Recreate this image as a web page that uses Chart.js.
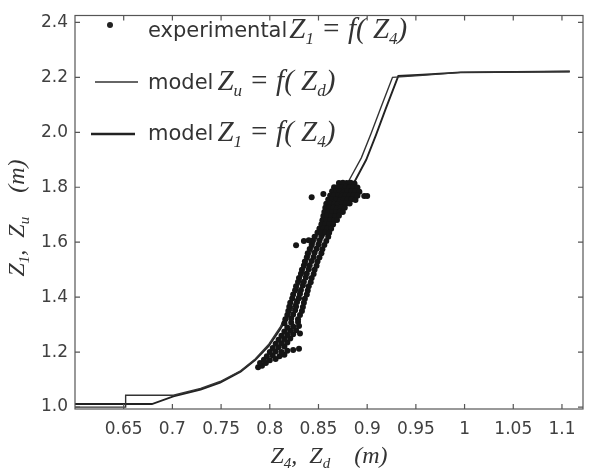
<!DOCTYPE html>
<html>
<head>
<meta charset="utf-8">
<script src="https://cdn.jsdelivr.net/npm/chart.js@4.4.1/dist/chart.umd.min.js"></script>
<style>
  html, body { margin: 0; padding: 0; background: #fff; }
  #wrap { width: 592px; height: 470px; }
</style>
</head>
<body>
<div id="wrap"><canvas id="chart"></canvas></div>
<script>
// tick positions
const xTicks = [0.65, 0.7, 0.75, 0.8, 0.85, 0.9, 0.95, 1.0, 1.05, 1.1];
const yTicks = [1.0, 1.2, 1.4, 1.6, 1.8, 2.0, 2.2, 2.4];

// model Zu = f(Zd)  (thin line)
const zuX = [0.600, 0.652, 0.652, 0.701, 0.729, 0.749, 0.770, 0.785, 0.799, 0.811, 0.821, 0.829, 0.835, 0.842,
             0.849, 0.860, 0.871, 0.882, 0.894, 0.904, 0.914, 0.921, 0.926, 0.957, 0.996, 1.108];
const zuY = [1.000, 1.000, 1.043, 1.043, 1.068, 1.093, 1.132, 1.175, 1.229, 1.293, 1.364, 1.436, 1.496, 1.561,
             1.625, 1.686, 1.757, 1.829, 1.907, 1.996, 2.089, 2.154, 2.200, 2.207, 2.218, 2.221];

// model Z1 = f(Z4)  (thick line)
const z1X = [0.600, 0.679, 0.701, 0.729, 0.749, 0.770, 0.785, 0.799, 0.811, 0.822, 0.831, 0.838, 0.846, 0.854,
             0.865, 0.876, 0.887, 0.899, 0.909, 0.919, 0.926, 0.932, 0.957, 0.996, 1.108];
const z1Y = [1.011, 1.011, 1.039, 1.064, 1.089, 1.129, 1.171, 1.223, 1.285, 1.352, 1.425, 1.485, 1.550, 1.615,
             1.680, 1.750, 1.820, 1.900, 1.990, 2.085, 2.150, 2.205, 2.210, 2.218, 2.221];

// experimental Z1 = f(Z4)
const expLow = [
  [0.788, 1.145], [0.792, 1.150], [0.790, 1.160], [0.796, 1.160], [0.794, 1.172], [0.800, 1.170], [0.806, 1.175],
  [0.797, 1.185], [0.803, 1.188], [0.810, 1.185], [0.815, 1.190], [0.800, 1.200], [0.806, 1.202], [0.812, 1.200],
  [0.818, 1.205], [0.824, 1.208], [0.830, 1.212], [0.803, 1.215], [0.809, 1.218], [0.815, 1.220], [0.806, 1.230],
  [0.812, 1.232], [0.818, 1.235], [0.809, 1.245], [0.815, 1.248], [0.821, 1.250], [0.812, 1.260], [0.818, 1.262],
  [0.824, 1.265], [0.831, 1.268], [0.815, 1.275], [0.821, 1.278], [0.827, 1.280], [0.818, 1.290], [0.824, 1.293],
  [0.830, 1.295], [0.815, 1.305], [0.822, 1.308], [0.829, 1.310]
];
const expMid = [
  [0.816, 1.320], [0.822, 1.322], [0.829, 1.320], [0.818, 1.335], [0.824, 1.337], [0.831, 1.335],
  [0.819, 1.350], [0.826, 1.352], [0.833, 1.350], [0.820, 1.365], [0.827, 1.366], [0.834, 1.364],
  [0.821, 1.380], [0.828, 1.382], [0.835, 1.380], [0.823, 1.395], [0.830, 1.396], [0.836, 1.394],
  [0.824, 1.410], [0.831, 1.412], [0.838, 1.410], [0.826, 1.425], [0.832, 1.426], [0.839, 1.424],
  [0.827, 1.440], [0.834, 1.442], [0.840, 1.440], [0.829, 1.455], [0.835, 1.456], [0.842, 1.454],
  [0.830, 1.470], [0.837, 1.472], [0.843, 1.470], [0.832, 1.485], [0.838, 1.486], [0.845, 1.484],
  [0.833, 1.500], [0.840, 1.502], [0.846, 1.500], [0.835, 1.515], [0.841, 1.516], [0.848, 1.514],
  [0.836, 1.530], [0.843, 1.532], [0.849, 1.530], [0.838, 1.545], [0.845, 1.546], [0.851, 1.544],
  [0.839, 1.560], [0.846, 1.562], [0.853, 1.560], [0.841, 1.575], [0.848, 1.576], [0.854, 1.574],
  [0.843, 1.590], [0.850, 1.592], [0.856, 1.590], [0.844, 1.605], [0.851, 1.606], [0.858, 1.604],
  [0.846, 1.620], [0.853, 1.622], [0.860, 1.620]
];
const expBlob = [
  [0.871, 1.815], [0.875, 1.816], [0.879, 1.815], [0.883, 1.816], [0.887, 1.814],
  [0.866, 1.800], [0.870, 1.801], [0.874, 1.800], [0.878, 1.802], [0.882, 1.800], [0.886, 1.801], [0.890, 1.799],
  [0.864, 1.785], [0.868, 1.786], [0.872, 1.785], [0.876, 1.784], [0.880, 1.786], [0.884, 1.785], [0.888, 1.786], [0.892, 1.784],
  [0.862, 1.770], [0.866, 1.771], [0.870, 1.770], [0.874, 1.769], [0.878, 1.771], [0.882, 1.770], [0.886, 1.771], [0.890, 1.769], [0.897, 1.768],
  [0.860, 1.755], [0.864, 1.756], [0.868, 1.755], [0.872, 1.754], [0.876, 1.756], [0.880, 1.755], [0.884, 1.756], [0.888, 1.754],
  [0.858, 1.740], [0.862, 1.741], [0.866, 1.740], [0.870, 1.739], [0.874, 1.741], [0.878, 1.740], [0.882, 1.741],
  [0.857, 1.725], [0.861, 1.726], [0.865, 1.725], [0.869, 1.724], [0.873, 1.726], [0.877, 1.725],
  [0.856, 1.710], [0.860, 1.711], [0.864, 1.710], [0.868, 1.709], [0.872, 1.711], [0.875, 1.710],
  [0.855, 1.695], [0.859, 1.696], [0.863, 1.695], [0.867, 1.694], [0.871, 1.696],
  [0.854, 1.680], [0.858, 1.681], [0.862, 1.680], [0.866, 1.679], [0.869, 1.681],
  [0.853, 1.665], [0.857, 1.666], [0.861, 1.665], [0.865, 1.664],
  [0.851, 1.650], [0.855, 1.651], [0.859, 1.650], [0.863, 1.649],
  [0.849, 1.635], [0.853, 1.636], [0.857, 1.635], [0.861, 1.634]
];
const expOut = [
  [0.843, 1.764], [0.855, 1.775], [0.900, 1.768], [0.827, 1.589], [0.835, 1.604], [0.840, 1.607]
];

const SANS = "'DejaVu Sans', Verdana, sans-serif";
const SERIF = "'Liberation Serif', 'Times New Roman', serif";

function pts(xs, ys) { return xs.map((x, i) => ({ x, y: ys[i] })); }
function pairs(list) { return list.map(p => ({ x: p[0], y: p[1] })); }

// draw a run of text pieces: [text, font, dy]
function rich(ctx, parts, x, y, align) {
  let w = 0;
  parts.forEach(p => { ctx.font = p[1]; w += ctx.measureText(p[0]).width; });
  let cx = align === "center" ? x - w / 2 : x;
  parts.forEach(p => {
    ctx.font = p[1];
    ctx.fillText(p[0], cx, y + (p[2] || 0));
    cx += ctx.measureText(p[0]).width;
  });
  return cx;
}

function mathParts(a, b, c, d, size) {
  const big = "italic " + size + "px " + SERIF;
  const sub = "italic " + Math.round(size * 0.6) + "px " + SERIF;
  const dy = size * 0.22;
  return [[a, big], [b, sub, dy], [" = ", big], ["f", big], ["( ", big], [c, big], [d, sub, dy], [")", big]];
}

const decor = {
  id: "decor",
  afterDraw(chart) {
    const { ctx, chartArea: a, scales: { x, y } } = chart;
    ctx.save();
    // frame + inward ticks
    ctx.strokeStyle = "#555";
    ctx.lineWidth = 1.2;
    ctx.strokeRect(a.left, a.top, a.right - a.left, a.bottom - a.top);
    ctx.beginPath();
    xTicks.forEach(v => {
      const p = x.getPixelForValue(v);
      ctx.moveTo(p, a.bottom); ctx.lineTo(p, a.bottom - 5);
      ctx.moveTo(p, a.top); ctx.lineTo(p, a.top + 5);
    });
    yTicks.forEach(v => {
      const p = y.getPixelForValue(v);
      ctx.moveTo(a.left, p); ctx.lineTo(a.left + 5, p);
      ctx.moveTo(a.right, p); ctx.lineTo(a.right - 5, p);
    });
    ctx.stroke();

    // axis titles
    ctx.fillStyle = "#333";
    ctx.textBaseline = "alphabetic";
    const tf = "italic 24px " + SERIF, ts = "italic 15px " + SERIF;
    rich(ctx, [["Z", tf], ["4", ts, 5], [",  ", tf], ["Z", tf], ["d", ts, 5], ["    (m)", tf]],
      (a.left + a.right) / 2, 463, "center");
    ctx.save();
    ctx.translate(24, 218);
    ctx.rotate(-Math.PI / 2);
    rich(ctx, [["Z", tf], ["1", ts, 5], [",  ", tf], ["Z", tf], ["u", ts, 5], ["    (m)", tf]], 0, 0, "center");
    ctx.restore();

    // legend
    const lx = a.left;
    const sans = "21px " + SANS;
    ctx.fillStyle = "#222";
    ctx.beginPath();
    ctx.arc(lx + 35, 25, 3, 0, Math.PI * 2);
    ctx.fill();
    ctx.strokeStyle = "#333";
    ctx.lineWidth = 1.3;
    ctx.beginPath(); ctx.moveTo(lx + 20, 82); ctx.lineTo(lx + 63, 82); ctx.stroke();
    ctx.strokeStyle = "#222";
    ctx.lineWidth = 2.6;
    ctx.beginPath(); ctx.moveTo(lx + 16, 134); ctx.lineTo(lx + 60, 134); ctx.stroke();

    ctx.fillStyle = "#333";
    let e = rich(ctx, [["experimental", sans]], lx + 73, 37);
    rich(ctx, mathParts("Z", "1", "Z", "4", 29), e + 2, 38);
    e = rich(ctx, [["model", sans]], lx + 73, 89);
    rich(ctx, mathParts("Z", "u", "Z", "d", 29), e + 4, 90);
    e = rich(ctx, [["model", sans]], lx + 73, 140);
    rich(ctx, mathParts("Z", "1", "Z", "4", 29), e + 4, 141);
    ctx.restore();
  }
};

const tickFont = { family: SANS, size: 17, lineHeight: 1 };

new Chart(document.getElementById("chart"), {
  type: "scatter",
  data: {
    datasets: [
      {
        label: "experimental",
        data: pairs(expLow.concat(expMid, expBlob, expOut)),
        backgroundColor: "#151515",
        borderWidth: 0,
        pointRadius: 3
      },
      {
        label: "model Zu = f(Zd)",
        data: pts(zuX, zuY),
        showLine: true,
        borderColor: "#333",
        borderWidth: 1.4,
        pointRadius: 0,
        tension: 0
      },
      {
        label: "model Z1 = f(Z4)",
        data: pts(z1X, z1Y),
        showLine: true,
        borderColor: "#222",
        borderWidth: 1.9,
        pointRadius: 0,
        tension: 0
      }
    ]
  },
  options: {
    responsive: true,
    maintainAspectRatio: false,
    animation: false,
    layout: { padding: { left: 0, top: 8, right: 9, bottom: 0 } },
    plugins: { legend: { display: false }, tooltip: { enabled: false } },
    scales: {
      x: {
        type: "linear",
        min: 0.6,
        max: 1.1216,
        grid: { display: false, drawTicks: false },
        border: { display: false },
        afterBuildTicks: s => { s.ticks = xTicks.map(v => ({ value: v })); },
        afterFit: s => { s.height = 61; },
        ticks: {
          font: tickFont,
          color: "#404040",
          padding: 12,
          maxRotation: 0,
          autoSkip: false,
          callback: v => String(Math.round(v * 100) / 100)
        }
      },
      y: {
        type: "linear",
        min: 0.993,
        max: 2.425,
        grid: { display: false, drawTicks: false },
        border: { display: false },
        afterBuildTicks: s => { s.ticks = yTicks.map(v => ({ value: v })); },
        afterFit: s => { s.width = 75; },
        ticks: {
          font: tickFont,
          color: "#404040",
          padding: 7,
          autoSkip: false,
          callback: v => v.toFixed(1)
        }
      }
    }
  },
  plugins: [decor]
});
</script>
</body>
</html>
